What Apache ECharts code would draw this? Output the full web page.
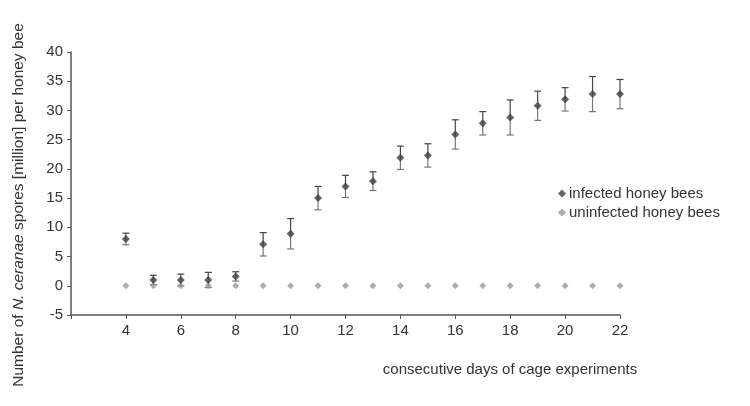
<!DOCTYPE html>
<html>
<head>
<meta charset="utf-8">
<script src="https://cdn.jsdelivr.net/npm/echarts@6/dist/echarts.min.js"></script>
<style>
  html, body { margin: 0; padding: 0; background: #fff; }
  #main { width: 750px; height: 406px; }
</style>
</head>
<body>
<div id="main"></div>
<script>
// days of the cage experiment
const days = [4, 5, 6, 7, 8, 9, 10, 11, 12, 13, 14, 15, 16, 17, 18, 19, 20, 21, 22]
// mean spores (million) per bee, infected group
const infected = [8.0, 1.0, 1.0, 1.0, 1.6, 7.1, 8.9, 15.0, 17.0, 17.9, 21.9, 22.3, 25.9, 27.8, 28.8, 30.8, 31.9, 32.8, 32.8]
// error (+/-) for infected group
const infectedErr = [1.0, 0.8, 1.0, 1.3, 0.8, 2.0, 2.6, 2.0, 1.9, 1.6, 2.0, 2.0, 2.5, 2.0, 3.0, 2.5, 2.0, 3.0, 2.5]
// uninfected group
const uninfected = [0, 0, 0, 0, 0, 0, 0, 0, 0, 0, 0, 0, 0, 0, 0, 0, 0, 0, 0]
const xTicks = [4, 6, 8, 10, 12, 14, 16, 18, 20, 22]

const font = 'Liberation Sans, Arial, sans-serif'
const chart = echarts.init(document.getElementById('main'))

const errData = days.map((d, i) => [d, infected[i], infected[i] - infectedErr[i], infected[i] + infectedErr[i]])

const option = {
  animation: false,
  textStyle: { fontFamily: font },
  grid: { left: 71, right: 130, top: 52, bottom: 91 },
  legend: {
    orient: 'vertical',
    left: 553,
    top: 181,
    itemGap: 4,
    itemWidth: 8,
    itemHeight: 8,
    textStyle: { fontSize: 15, color: '#333', fontFamily: font, padding: [0, 0, 0, -2] },
    data: [
      { name: 'infected honey bees', icon: 'diamond' },
      { name: 'uninfected honey bees', icon: 'diamond' }
    ]
  },
  xAxis: {
    type: 'value',
    min: 2,
    max: 22,
    interval: 2,
    axisLine: { onZero: false, lineStyle: { color: '#555', width: 1.5 } },
    axisTick: { show: true, length: 4, lineStyle: { color: '#555' } },
    splitLine: { show: false },
    axisLabel: {
      fontSize: 15,
      color: '#333',
      margin: 8,
      formatter: v => (xTicks.indexOf(v) >= 0 ? String(v) : '')
    }
  },
  yAxis: {
    type: 'value',
    min: -5,
    max: 40,
    interval: 5,
    axisLine: { show: true, onZero: false, lineStyle: { color: '#555', width: 1.5 } },
    axisTick: { show: true, length: 4, lineStyle: { color: '#555' } },
    splitLine: { show: false },
    axisLabel: { fontSize: 15, color: '#333', margin: 8 }
  },
  graphic: [
    {
      // y axis title, rotated
      type: 'text',
      x: 19,
      y: 205,
      rotation: Math.PI / 2,
      style: {
        text: '{n|Number of }{i|N. ceranae}{n| spores [million] per honey bee}',
        textAlign: 'center',
        textVerticalAlign: 'middle',
        rich: {
          n: { fontSize: 15.5, fill: '#333', fontFamily: font },
          i: { fontSize: 15.5, fill: '#333', fontFamily: font, fontStyle: 'italic' }
        }
      }
    },
    {
      type: 'text',
      x: 510,
      y: 370,
      style: {
        text: 'consecutive days of cage experiments',
        fontSize: 15,
        fill: '#333',
        fontFamily: font,
        textAlign: 'center',
        textVerticalAlign: 'middle'
      }
    }
  ],
  series: [
    {
      name: 'err',
      type: 'custom',
      z: 1,
      data: errData,
      renderItem: function (params, api) {
        const x = api.value(0)
        const mid = api.coord([x, api.value(1)])
        const lo = api.coord([x, api.value(2)])
        const hi = api.coord([x, api.value(3)])
        const w = 3.5
        const dark = { stroke: '#444', lineWidth: 1.2 }
        const light = { stroke: '#777', lineWidth: 1.2 }
        return {
          type: 'group',
          children: [
            { type: 'line', shape: { x1: mid[0], y1: mid[1], x2: hi[0], y2: hi[1] }, style: dark },
            { type: 'line', shape: { x1: lo[0], y1: lo[1], x2: mid[0], y2: mid[1] }, style: light },
            { type: 'line', shape: { x1: lo[0] - w, y1: lo[1], x2: lo[0] + w, y2: lo[1] }, style: light },
            { type: 'line', shape: { x1: hi[0] - w, y1: hi[1], x2: hi[0] + w, y2: hi[1] }, style: dark }
          ]
        }
      }
    },
    {
      name: 'uninfected honey bees',
      type: 'scatter',
      symbol: 'diamond',
      symbolSize: 7,
      z: 2,
      itemStyle: { color: '#999' },
      data: days.map((d, i) => [d, uninfected[i]])
    },
    {
      name: 'infected honey bees',
      type: 'scatter',
      symbol: 'diamond',
      symbolSize: 8,
      z: 3,
      itemStyle: { color: '#3d3d3d' },
      data: days.map((d, i) => [d, infected[i]])
    }
  ]
}

option && chart.setOption(option)
</script>
</body>
</html>
